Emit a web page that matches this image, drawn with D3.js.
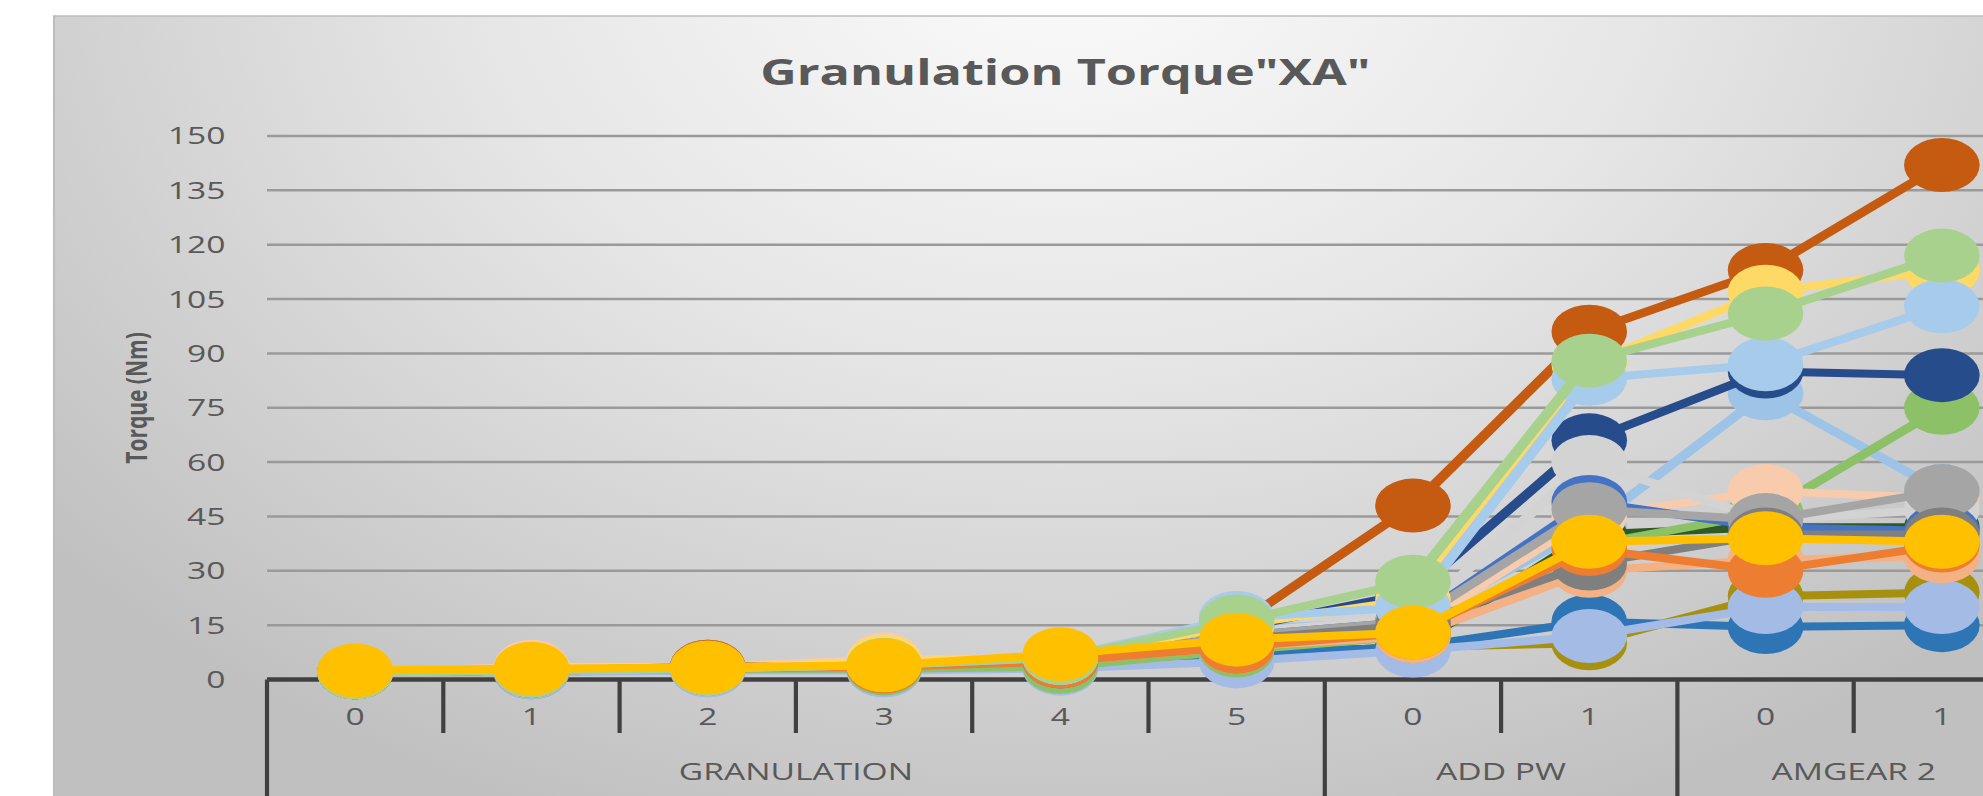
<!DOCTYPE html>
<html>
<head>
<meta charset="utf-8">
<script src="https://cdn.jsdelivr.net/npm/d3@7"></script>
<style>
  body { margin: 0; background: #fff; }
  svg { display: block; }
  text { font-family: "Open Sans", "Noto Sans", sans-serif; fill: #595959; }
</style>
</head>
<body>
<div id="chart"></div>
<script>
// categories (two level axis)
var groups = ["GRANULATION", "ADD PW", "AMGEAR 2"];
var groupSizes = [6, 2, 2];
var tickLabels = ["0", "1", "2", "3", "4", "5", "0", "1", "0", "1"];
var yTicks = [0, 15, 30, 45, 60, 75, 90, 105, 120, 135, 150];

// torque values per run (drawing order = list order)
var s01 = [2, 2.5, 3, 3.5, 5, 14, 16, 42, 79, 52];
var s02 = [2, 2, 3, 3, 4, 7, 9, 10, 23, 24];
var s03 = [2, 2.5, 3, 3.5, 5, 7, 9, 40, 42, 42];
var s04 = [2, 2.5, 3, 3, 4, 7, 9, 16, 14.5, 15];
var s05 = [2, 2, 2.5, 2.5, 3, 5, 8, 12, 20, 20];
var s06 = [2, 2.5, 3, 3, 3.5, 8, 12, 37, 46, 75];
var s07 = [2, 2.5, 3.5, 4, 6, 14, 24, 66, 85, 84];
var s08 = [2, 3.5, 3.5, 5.5, 6, 10, 14, 45, 52, 50];
var s09 = [2, 2.5, 3, 4, 5, 9, 12, 30, 33, 34];
var s10 = [2, 2.5, 3, 4, 5, 13, 17, 60, 44, 47];
var s11 = [2, 2.5, 3, 4, 5, 12, 16, 49, 42, 41];
var s12 = [2, 2.5, 3, 4, 5, 12, 16, 47, 44, 52];
var s13 = [2, 2.5, 3, 4, 5, 11, 15, 32, 40, 40];
var s14 = [2, 2.5, 3, 3.5, 5, 9, 13, 36, 30, 37];
var s15 = [2, 2.5, 3.5, 4, 6, 15, 48, 96, 113, 142];
var s16 = [2, 2.5, 3, 5, 6, 15, 22, 87, 107, 113];
var s17 = [2, 2.5, 3, 4, 6, 17, 20, 83, 87, 103];
var s18 = [2, 2.5, 3, 4, 6, 16, 27, 88, 101, 117];
var s19 = [2.5, 3, 3.3, 3.9, 7, 11, 13, 38, 39, 38];

var allSeries = [s01, s02, s03, s04, s05, s06, s07, s08, s09, s10,
                 s11, s12, s13, s14, s15, s16, s17, s18, s19];
var colors = ["#9DC3E6", "#A8900F", "#2F5A22", "#2E75B6", "#A4BBE6", "#8CC168",
              "#264C8C", "#F8CBAD", "#F4B183", "#D3D3D3", "#4472C4", "#A5A5A5",
              "#7F7F7F", "#ED7D31", "#C55A11", "#FFD966", "#A7CBEA", "#A9D18E", "#FFC000"];

var W = 1983, H = 796;
var sx = 1.4; // the reference picture is stretched sideways
var LW = W / sx;

var svg = d3.select("#chart").append("svg")
    .attr("width", W)
    .attr("height", H);

var defs = svg.append("defs");
var grad = defs.append("radialGradient")
    .attr("id", "bg")
    .attr("gradientUnits", "userSpaceOnUse")
    .attr("cx", 760).attr("cy", -60).attr("r", 950);
grad.append("stop").attr("offset", "0").attr("stop-color", "#fcfcfc");
grad.append("stop").attr("offset", "0.45").attr("stop-color", "#e6e6e6");
grad.append("stop").attr("offset", "1").attr("stop-color", "#c0c0c0");

var g = svg.append("g").attr("transform", "scale(" + sx + ",1)");

g.append("rect")
    .attr("x", 54 / sx).attr("y", 16)
    .attr("width", LW).attr("height", H)
    .attr("fill", "url(#bg)")
    .attr("stroke", "#bdbdbd")
    .attr("stroke-width", 1.5);

var x0 = 267 / sx, bw = 176.3 / sx;
var x = d3.scaleBand()
    .domain(d3.range(tickLabels.length))
    .range([x0, x0 + bw * tickLabels.length])
    .padding(0);

var y = d3.scaleLinear()
    .domain([0, 150])
    .range([679.5, 136]);

// gridlines
g.selectAll(".grid")
    .data(yTicks.filter(function(d) { return d > 0; }))
    .enter().append("line")
    .attr("class", "grid")
    .attr("x1", x0).attr("x2", LW)
    .attr("y1", function(d) { return y(d); })
    .attr("y2", function(d) { return y(d); })
    .attr("stroke", "#9a9a9a")
    .attr("stroke-width", 2.5);

// y labels
g.selectAll(".ylab")
    .data(yTicks)
    .enter().append("text")
    .attr("class", "ylab")
    .attr("x", 161)
    .attr("y", function(d) { return y(d) + 8.5; })
    .attr("text-anchor", "end")
    .style("font-size", "24px")
    .text(function(d) { return d; });

// category axis
var axisY = y(0);
g.append("line")
    .attr("x1", x0).attr("x2", x0 + bw * tickLabels.length)
    .attr("y1", axisY).attr("y2", axisY)
    .attr("stroke", "#404040").attr("stroke-width", 4.5);

var groupEdges = [0];
groupSizes.forEach(function(n) { groupEdges.push(groupEdges[groupEdges.length - 1] + n); });

g.selectAll(".tick")
    .data(d3.range(tickLabels.length + 1))
    .enter().append("line")
    .attr("class", "tick")
    .attr("x1", function(i) { return x0 + i * bw; })
    .attr("x2", function(i) { return x0 + i * bw; })
    .attr("y1", axisY)
    .attr("y2", function(i) { return groupEdges.indexOf(i) > -1 ? H : 733; })
    .attr("stroke", "#404040").attr("stroke-width", 3);

g.selectAll(".xlab")
    .data(tickLabels)
    .enter().append("text")
    .attr("class", "xlab")
    .attr("x", function(d, i) { return x(i) + bw / 2; })
    .attr("y", 725)
    .attr("text-anchor", "middle")
    .style("font-size", "24px")
    .text(function(d) { return d; });

g.selectAll(".glab")
    .data(groups)
    .enter().append("text")
    .attr("class", "glab")
    .attr("x", function(d, i) { return x0 + (groupEdges[i] + groupEdges[i + 1]) / 2 * bw; })
    .attr("y", 780)
    .attr("text-anchor", "middle")
    .style("font-size", "24px")
    .text(function(d) { return d; });

// title and axis title
g.append("text")
    .attr("x", 761).attr("y", 85)
    .attr("text-anchor", "middle")
    .style("font-size", "36px")
    .style("font-weight", "bold")
    .text('Granulation Torque"XA"');

g.append("text")
    .attr("transform", "translate(105,398) rotate(-90)")
    .attr("text-anchor", "middle")
    .style("font-size", "21px")
    .style("font-weight", "bold")
    .text("Torque (Nm)");

// series: line then markers, one run after another
var line = d3.line()
    .x(function(d, i) { return x(i) + bw / 2; })
    .y(function(d) { return y(d); });

allSeries.forEach(function(vals, k) {
  var sg = g.append("g");
  sg.append("path")
      .attr("d", line(vals))
      .attr("fill", "none")
      .attr("stroke", colors[k])
      .attr("stroke-width", 8)
      .attr("stroke-linejoin", "round");
  sg.selectAll("circle")
      .data(vals)
      .enter().append("circle")
      .attr("cx", function(d, i) { return x(i) + bw / 2; })
      .attr("cy", function(d) { return y(d); })
      .attr("r", 27)
      .attr("fill", colors[k]);
});
</script>
</body>
</html>
